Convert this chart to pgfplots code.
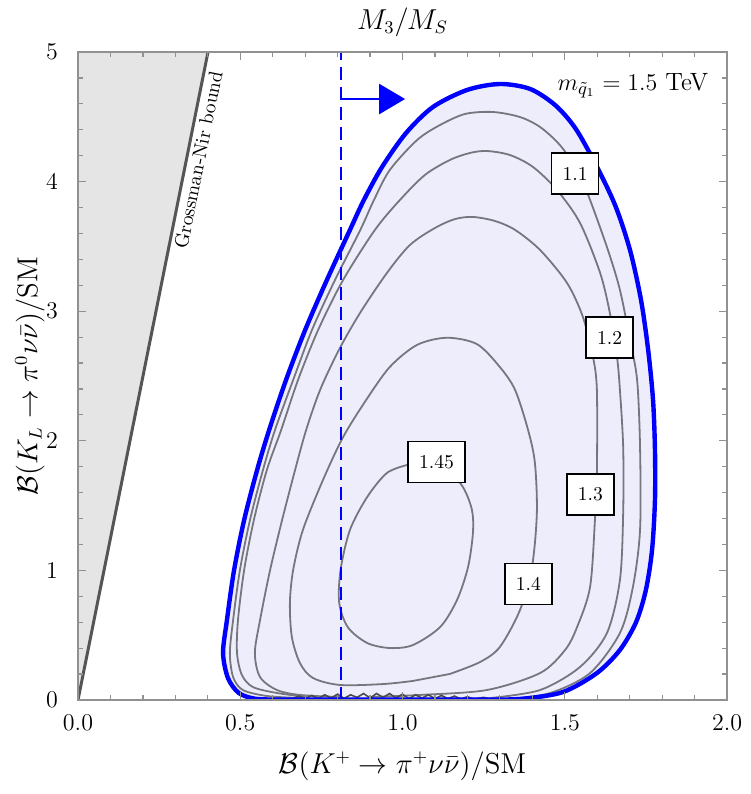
\documentclass[border=0pt]{standalone}
\usepackage{pgfplots}
\usepackage{pgfplotstable}
\pgfplotsset{compat=1.18}
\usetikzlibrary{arrows.meta}

\definecolor{lav}{RGB}{237,237,252}
\definecolor{contgray}{RGB}{118,118,126}
\definecolor{gnfill}{RGB}{229,229,229}
\definecolor{gnline}{RGB}{85,85,85}
\definecolor{framegray}{RGB}{145,145,145}

% allowed region boundary (blue)
\pgfplotstableread{
x y
0.620 0.003
0.545 0.010
0.495 0.055
0.462 0.170
0.447 0.363
0.459 0.617
0.481 1.003
0.512 1.389
0.552 1.775
0.589 2.083
0.641 2.469
0.700 2.855
0.767 3.241
0.838 3.627
0.881 3.858
0.937 4.113
1.011 4.375
1.094 4.576
1.199 4.707
1.300 4.753
1.393 4.715
1.470 4.591
1.532 4.414
1.593 4.144
1.655 3.819
1.701 3.472
1.735 3.086
1.757 2.701
1.772 2.315
1.778 1.929
1.778 1.543
1.769 1.157
1.750 0.849
1.720 0.602
1.670 0.386
1.599 0.208
1.495 0.062
1.371 0.010
1.250 0.003
1.000 0.003
0.800 0.003
}\boundary

% M3/MS = 1.1
\pgfplotstableread{
x y
0.684 0.015
0.582 0.031
0.508 0.077
0.478 0.177
0.468 0.363
0.478 0.617
0.499 1.003
0.530 1.389
0.570 1.775
0.607 2.083
0.663 2.469
0.721 2.855
0.792 3.241
0.870 3.627
0.912 3.858
0.961 4.090
1.045 4.321
1.116 4.437
1.193 4.522
1.279 4.537
1.362 4.498
1.424 4.421
1.485 4.282
1.538 4.090
1.578 3.858
1.633 3.472
1.670 3.164
1.701 2.778
1.723 2.469
1.732 1.952
1.732 1.312
1.710 0.872
1.670 0.517
1.578 0.208
1.455 0.054
1.322 0.005
}\cA

% M3/MS = 1.2
\pgfplotstableread{
x y
0.706 0.023
0.613 0.054
0.539 0.100
0.505 0.193
0.490 0.363
0.493 0.617
0.512 1.003
0.542 1.389
0.582 1.775
0.626 2.083
0.678 2.469
0.740 2.855
0.817 3.241
0.915 3.627
0.992 3.858
1.069 4.051
1.146 4.167
1.208 4.221
1.260 4.236
1.331 4.205
1.402 4.113
1.476 3.935
1.547 3.681
1.609 3.295
1.639 2.986
1.661 2.647
1.670 2.392
1.680 1.952
1.680 1.443
1.670 0.926
1.630 0.517
1.547 0.255
1.424 0.077
1.270 0.015
}\cB

% M3/MS = 1.3
\pgfplotstableread{
x y
0.807 0.023
0.684 0.039
0.613 0.077
0.561 0.177
0.545 0.363
0.561 0.617
0.592 1.003
0.629 1.389
0.669 1.775
0.703 2.083
0.746 2.392
0.804 2.701
0.869 2.986
0.952 3.295
1.023 3.511
1.100 3.642
1.162 3.711
1.217 3.727
1.285 3.696
1.347 3.627
1.424 3.472
1.507 3.218
1.556 2.955
1.587 2.647
1.599 2.392
1.599 1.752
1.593 1.389
1.578 0.872
1.538 0.563
1.501 0.386
1.424 0.208
1.260 0.077
1.054 0.039
0.900 0.023
}\cC

% M3/MS = 1.4
\pgfplotstableread{
x y
1.032 0.147
0.940 0.123
0.807 0.116
0.724 0.170
0.684 0.285
0.659 0.486
0.653 0.748
0.663 1.003
0.693 1.312
0.755 1.698
0.817 2.029
0.888 2.315
0.961 2.570
1.045 2.740
1.137 2.795
1.230 2.745
1.300 2.569
1.347 2.392
1.387 2.083
1.408 1.829
1.414 1.443
1.399 1.026
1.362 0.694
1.300 0.409
1.239 0.293
1.146 0.201
}\cD

% M3/MS = 1.45
\pgfplotstableread{
x y
1.014 1.813
0.952 1.752
0.891 1.566
0.838 1.312
0.809 1.003
0.805 0.748
0.832 0.560
0.891 0.440
0.961 0.401
1.032 0.424
1.116 0.563
1.168 0.772
1.202 1.026
1.217 1.289
1.214 1.466
1.186 1.644
1.131 1.798
1.069 1.852
}\cE

\begin{document}
\begin{tikzpicture}
\begin{axis}[
  scale only axis,
  width=324.5pt, height=324pt,
  xmin=0, xmax=2, ymin=0, ymax=5,
  xtick={0,0.5,1,1.5,2}, ytick={0,1,2,3,4,5},
  minor x tick num=4, minor y tick num=4,
  tick align=inside,
  major tick length=4pt, minor tick length=2.5pt,
  axis on top,
  axis line style={framegray, line width=0.8pt},
  every tick/.style={framegray, line width=0.6pt},
  x tick label style={/pgf/number format/fixed, /pgf/number format/fixed zerofill, /pgf/number format/precision=1, yshift=-4pt},
  y tick label style={xshift=-6.5pt},
  tick label style={font=\fontsize{13}{15}\selectfont},
  xlabel={$\mathcal{B}(K^+\to\pi^+\nu\bar\nu)/\mathrm{SM}$},
  ylabel={$\mathcal{B}(K_L\to\pi^0\nu\bar\nu)/\mathrm{SM}$},
  title={$M_3/M_S$},
  every axis x label/.style={at={(axis description cs:0.5,-0.1019)}, anchor=center, font=\fontsize{13.5}{15}\selectfont},
  every axis y label/.style={at={(axis description cs:-0.074,0.5)}, anchor=center, rotate=90, font=\fontsize{13.5}{15}\selectfont},
  every axis title/.style={at={(axis description cs:0.5,1.0463)}, anchor=center, font=\fontsize{13.5}{15}\selectfont},
]
\coordinate (bbSW) at (rel axis cs:0,0);
\coordinate (bbNE) at (rel axis cs:1,1);

% excluded by the Grossman-Nir bound
\addplot[fill=gnfill, draw=none] coordinates {(0,0) (0.4006,5) (0,5)} -- cycle;
\addplot[gnline, line width=1.5pt] coordinates {(0,0) (0.4006,5)};
\node[rotate=78.66, font=\fontsize{9.8}{11}\selectfont] at (axis cs:0.371,4.167) {Grossman-Nir bound};

% allowed region
\addplot[fill=lav, draw=none, smooth] table {\boundary} -- cycle;

% contours of M3/MS
\addplot[contgray, line width=0.9pt, smooth] table {\cA};
\addplot[contgray, line width=0.9pt, smooth] table {\cB};
\addplot[contgray, line width=0.9pt, smooth] table {\cC};
\addplot[contgray, line width=0.9pt, smooth] table {\cD} -- cycle;
\addplot[contgray, line width=0.9pt, smooth] table {\cE} -- cycle;

% numerical noise where the contours pile up at the bottom
\addplot[black!70, line width=0.8pt] coordinates {
(0.66,0.010)(0.68,0.030)(0.70,0.012)(0.72,0.035)(0.74,0.010)(0.76,0.040)
(0.78,0.015)(0.80,0.045)(0.82,0.012)(0.84,0.040)(0.86,0.020)(0.88,0.050)
(0.90,0.015)(0.92,0.050)(0.94,0.020)(0.96,0.050)(0.98,0.015)(1.00,0.045)
(1.02,0.010)(1.04,0.040)(1.06,0.015)(1.08,0.040)(1.10,0.010)(1.12,0.035)
(1.14,0.010)(1.16,0.030)(1.18,0.008)(1.20,0.025)(1.22,0.008)(1.25,0.020)
(1.28,0.005)(1.31,0.012)};

% boundary line
\addplot[blue, line width=2.2pt, smooth] table {\boundary} -- cycle;

% lower bound on B(K+) and its arrow
\addplot[blue, line width=1pt, dash pattern=on 6.5pt off 3.5pt] coordinates {(0.81,0) (0.81,5)};
\addplot[blue, line width=1.3pt, -{Triangle[length=13pt,width=15pt]}] coordinates {(0.81,4.637) (1.008,4.637)};

\node[font=\fontsize{12.5}{14}\selectfont] at (axis cs:1.710,4.738) {$m_{\tilde q_1} = 1.5$ TeV};

% contour labels
\tikzset{clab/.style={draw=black, line width=0.8pt, fill=white, inner xsep=5.5pt, inner ysep=0pt, minimum height=20.5pt, font=\fontsize{9.8}{11}\selectfont}}
\node[clab] at (axis cs:1.532,4.062) {1.1};
\node[clab] at (axis cs:1.638,2.797) {1.2};
\node[clab] at (axis cs:1.579,1.586) {1.3};
\node[clab] at (axis cs:1.388,0.895) {1.4};
\node[clab] at (axis cs:1.105,1.836) {1.45};
\end{axis}
\pgfresetboundingbox
\path ([xshift=-39pt,yshift=-47pt]bbSW) rectangle ([xshift=11.5pt,yshift=26pt]bbNE);
\end{tikzpicture}
\end{document}
